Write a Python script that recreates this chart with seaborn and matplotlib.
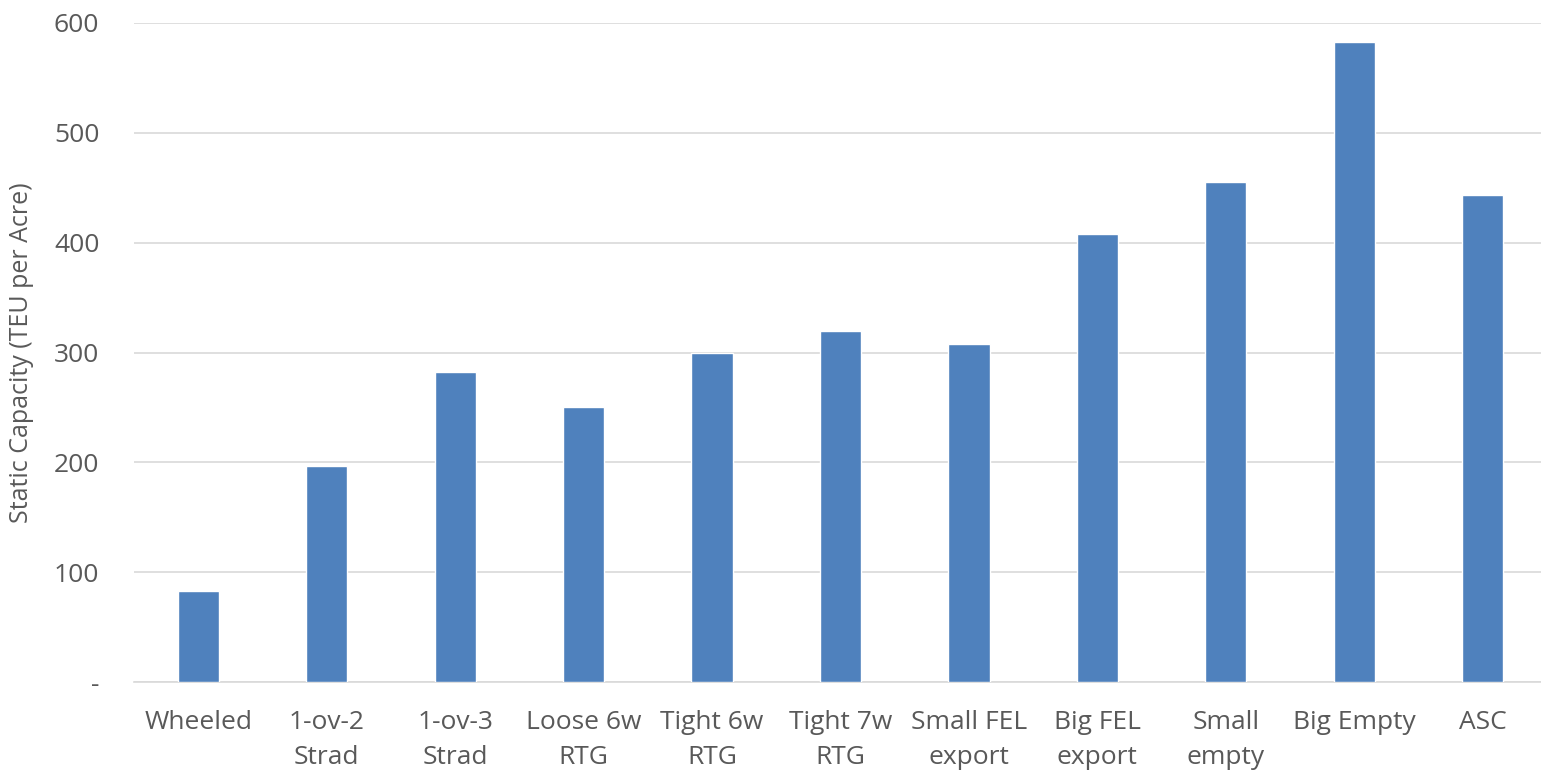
import matplotlib
matplotlib.use("Agg")
import matplotlib.pyplot as plt
import seaborn as sns
import pandas as pd

categories = ["Wheeled", "1-ov-2\nStrad", "1-ov-3\nStrad", "Loose 6w\nRTG", "Tight 6w\nRTG",
              "Tight 7w\nRTG", "Small FEL\nexport", "Big FEL\nexport", "Small\nempty",
              "Big Empty", "ASC"]
capacity = [83, 197, 282, 250, 300, 320, 308, 408, 455, 583, 443]
y_ticks = [0, 100, 200, 300, 400, 500, 600]
y_tick_labels = ["-", "100", "200", "300", "400", "500", "600"]

sns.set_theme(style="white")
plt.rcParams["font.family"] = ["Open Sans", "DejaVu Sans"]

text_color = "#595959"
df = pd.DataFrame({"category": categories, "capacity": capacity})

fig = plt.figure(figsize=(15.41, 7.75), dpi=100)
ax = fig.add_axes([134 / 1541, 1 - 682 / 775, (1547 - 134) / 1541, (682 - 23) / 775])

sns.barplot(data=df, x="category", y="capacity", color="#4F81BD", saturation=1,
            width=0.32, ax=ax, zorder=3)

ax.set_ylim(0, 600)
ax.set_xlim(-0.5, len(categories) - 0.5)
ax.set_yticks(y_ticks)
ax.set_yticklabels(y_tick_labels)
ax.yaxis.grid(True, color="#D9D9D9", linewidth=1.2, zorder=0)
ax.set_axisbelow(True)
for side in ["top", "right", "left"]:
    ax.spines[side].set_visible(False)
ax.spines["bottom"].set_color("#D9D9D9")
ax.spines["bottom"].set_linewidth(1.2)

ax.tick_params(axis="both", length=0, labelsize=19, colors=text_color)
ax.tick_params(axis="y", pad=25)
ax.tick_params(axis="x", pad=20)
for lbl in ax.get_xticklabels():
    lbl.set_linespacing(1.55)
ax.set_xlabel("")
ax.set_ylabel("Static Capacity (TEU per Acre)", fontsize=18, color=text_color, labelpad=14)

fig.savefig("out.png", dpi=100, facecolor="white")
